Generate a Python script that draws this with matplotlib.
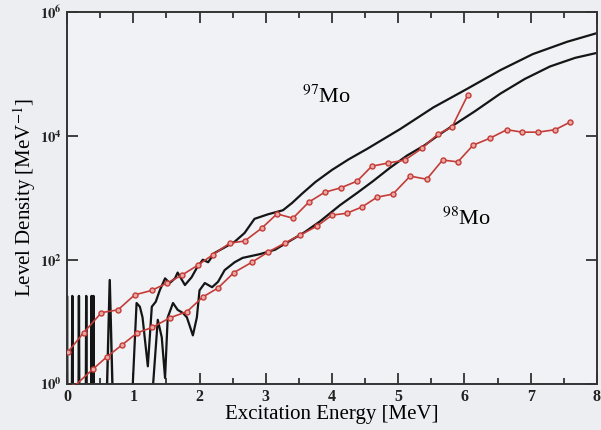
import numpy as np
import matplotlib
matplotlib.use('Agg')
import matplotlib.pyplot as plt
import matplotlib.ticker as ticker

plt.rcParams['font.family'] = ['Liberation Serif', 'DejaVu Serif']
plt.rcParams['mathtext.fontset'] = 'stix'

# experimental (Oslo method) level densities, open red symbols
E_exp97 = [0.01, 0.25, 0.52, 0.77, 1.02, 1.28, 1.51, 1.73, 1.97, 2.20, 2.46, 2.68, 2.94,
           3.17, 3.41, 3.65, 3.89, 4.13, 4.38, 4.60, 4.84, 5.10, 5.36, 5.60, 5.81, 6.05]
rho_exp97 = [3.2, 6.6, 14, 15.5, 27, 32, 42, 56, 81, 120, 186, 200, 324,
             550, 468, 851, 1230, 1445, 1862, 3236, 3631, 4074, 6310, 10700, 13800, 45700]

E_exp98 = [0.09, 0.39, 0.60, 0.83, 1.06, 1.29, 1.55, 1.81, 2.05, 2.28, 2.52, 2.79, 3.03,
           3.29, 3.52, 3.77, 4.00, 4.22, 4.45, 4.68, 4.92, 5.18, 5.43, 5.67, 5.90, 6.13,
           6.38, 6.64, 6.87, 7.11, 7.37, 7.59]
rho_exp98 = [0.87, 1.7, 2.7, 4.2, 6.6, 8.1, 11.5, 14.5, 25, 35, 62, 91, 132,
             186, 251, 347, 525, 562, 708, 1023, 1148, 2239, 1995, 4074, 3802, 7079,
             9120, 12590, 11480, 11480, 12590, 16600]

# calculated level densities, black lines
E_calc97 = [0.98, 1.05, 1.10, 1.14, 1.22, 1.28, 1.34, 1.40, 1.48, 1.55, 1.63, 1.67, 1.78,
            1.88, 1.96, 2.05, 2.13, 2.23, 2.38, 2.53, 2.68, 2.83, 3.03, 3.26, 3.40, 3.55,
            3.75, 4.00, 4.25, 4.53, 5.03, 5.53, 6.04, 6.54, 7.03, 7.55, 8.00]
rho_calc97 = [0.5, 20, 17.4, 11.7, 1.9, 17.4, 21, 32, 50, 42, 50, 62, 39,
              52, 74, 100, 91, 129, 158, 195, 270, 457, 540, 630, 830, 1170,
              1800, 2820, 4170, 6170, 12900, 28800, 57500, 115000, 209000, 331000, 457000]

E_calc98 = [1.28, 1.37, 1.43, 1.48, 1.52, 1.60, 1.67, 1.75, 1.81, 1.90, 1.96, 2.00, 2.08,
            2.19, 2.28, 2.38, 2.53, 2.65, 2.91, 3.14, 3.36, 3.59, 3.82, 4.12, 4.38, 4.62,
            4.87, 5.13, 5.40, 5.63, 5.86, 6.16, 6.54, 6.91, 7.29, 7.67, 8.00]
rho_calc98 = [0.5, 10.7, 5.6, 1.23, 11.7, 20, 15.5, 13.8, 11.7, 6.0, 11.7, 32, 42,
              36, 44, 68, 91, 107, 123, 145, 200, 280, 417, 759, 1200, 1860,
              3020, 4790, 7080, 10700, 15500, 25100, 48000, 83000, 132000, 182000, 219000]

# discrete levels at low energy show up as spikes
spike_E = [0.0, 0.08, 0.18, 0.29, 0.37, 0.40, 0.645]
spike_rho = [26, 26, 26, 26, 26, 26, 47]
spike_hw = [0.006, 0.006, 0.006, 0.006, 0.006, 0.006, 0.047]

red = '#c43c38'

fig = plt.figure(figsize=(6.01, 4.30), dpi=100, facecolor='#eceef2')
ax = fig.add_axes([0.1115, 0.108, 0.8818, 0.864])
ax.set_facecolor('#f1f2f5')

sx, sy = [], []
for e, r, w in zip(spike_E, spike_rho, spike_hw):
    sx += [e - w, e, e + w]
    sy += [0.5, r, 0.5]
ax.plot(sx, sy, color='#151515', lw=1.7)

ax.plot(E_calc97, rho_calc97, color='#151515', lw=1.6)
ax.plot(E_calc98, rho_calc98, color='#151515', lw=1.6)

ax.plot(E_exp97, rho_exp97, color=red, lw=1.2, marker='o', ms=3.6,
        mfc='#eaa8a4', mec=red, mew=1.0, zorder=3)
ax.plot(E_exp98, rho_exp98, color=red, lw=1.2, marker='o', ms=3.6,
        mfc='#eaa8a4', mec=red, mew=1.0, zorder=3)

ax.text(3.55, 10**4.53, r'$^{97}$Mo', fontsize=16, ha='left', va='baseline')
ax.text(5.66, 10**2.56, r'$^{98}$Mo', fontsize=16, ha='left', va='baseline')

ax.set_yscale('log')
ax.set_xlim(0, 8)
ax.set_ylim(1, 1e6)

ax.xaxis.set_major_locator(ticker.MultipleLocator(1))
ax.xaxis.set_minor_locator(ticker.MultipleLocator(0.5))
ax.yaxis.set_major_locator(ticker.FixedLocator([1, 1e2, 1e4, 1e6]))
ax.yaxis.set_minor_locator(ticker.NullLocator())
ax.yaxis.set_major_formatter(ticker.FixedFormatter(
    [r'$\mathbf{10^0}$', r'$\mathbf{10^2}$', r'$\mathbf{10^4}$', r'$\mathbf{10^6}$']))

ax.tick_params(which='both', direction='in', top=True, right=True, width=1.2,
               colors='#222222')
ax.tick_params(axis='x', labelsize=11.5)
ax.tick_params(axis='y', labelsize=10.5)
ax.tick_params(which='major', length=8, pad=4)
ax.tick_params(which='minor', length=4)
for lab in ax.get_xticklabels():
    lab.set_fontweight('bold')

for s in ax.spines.values():
    s.set_linewidth(1.4)
    s.set_color('#333333')

ax.set_xlabel('Excitation Energy [MeV]', fontsize=15, labelpad=0)
ax.set_ylabel(r'Level Density [MeV$^{-1}$]', fontsize=15, labelpad=1)

fig.savefig('out.png', dpi=100, facecolor=fig.get_facecolor())
